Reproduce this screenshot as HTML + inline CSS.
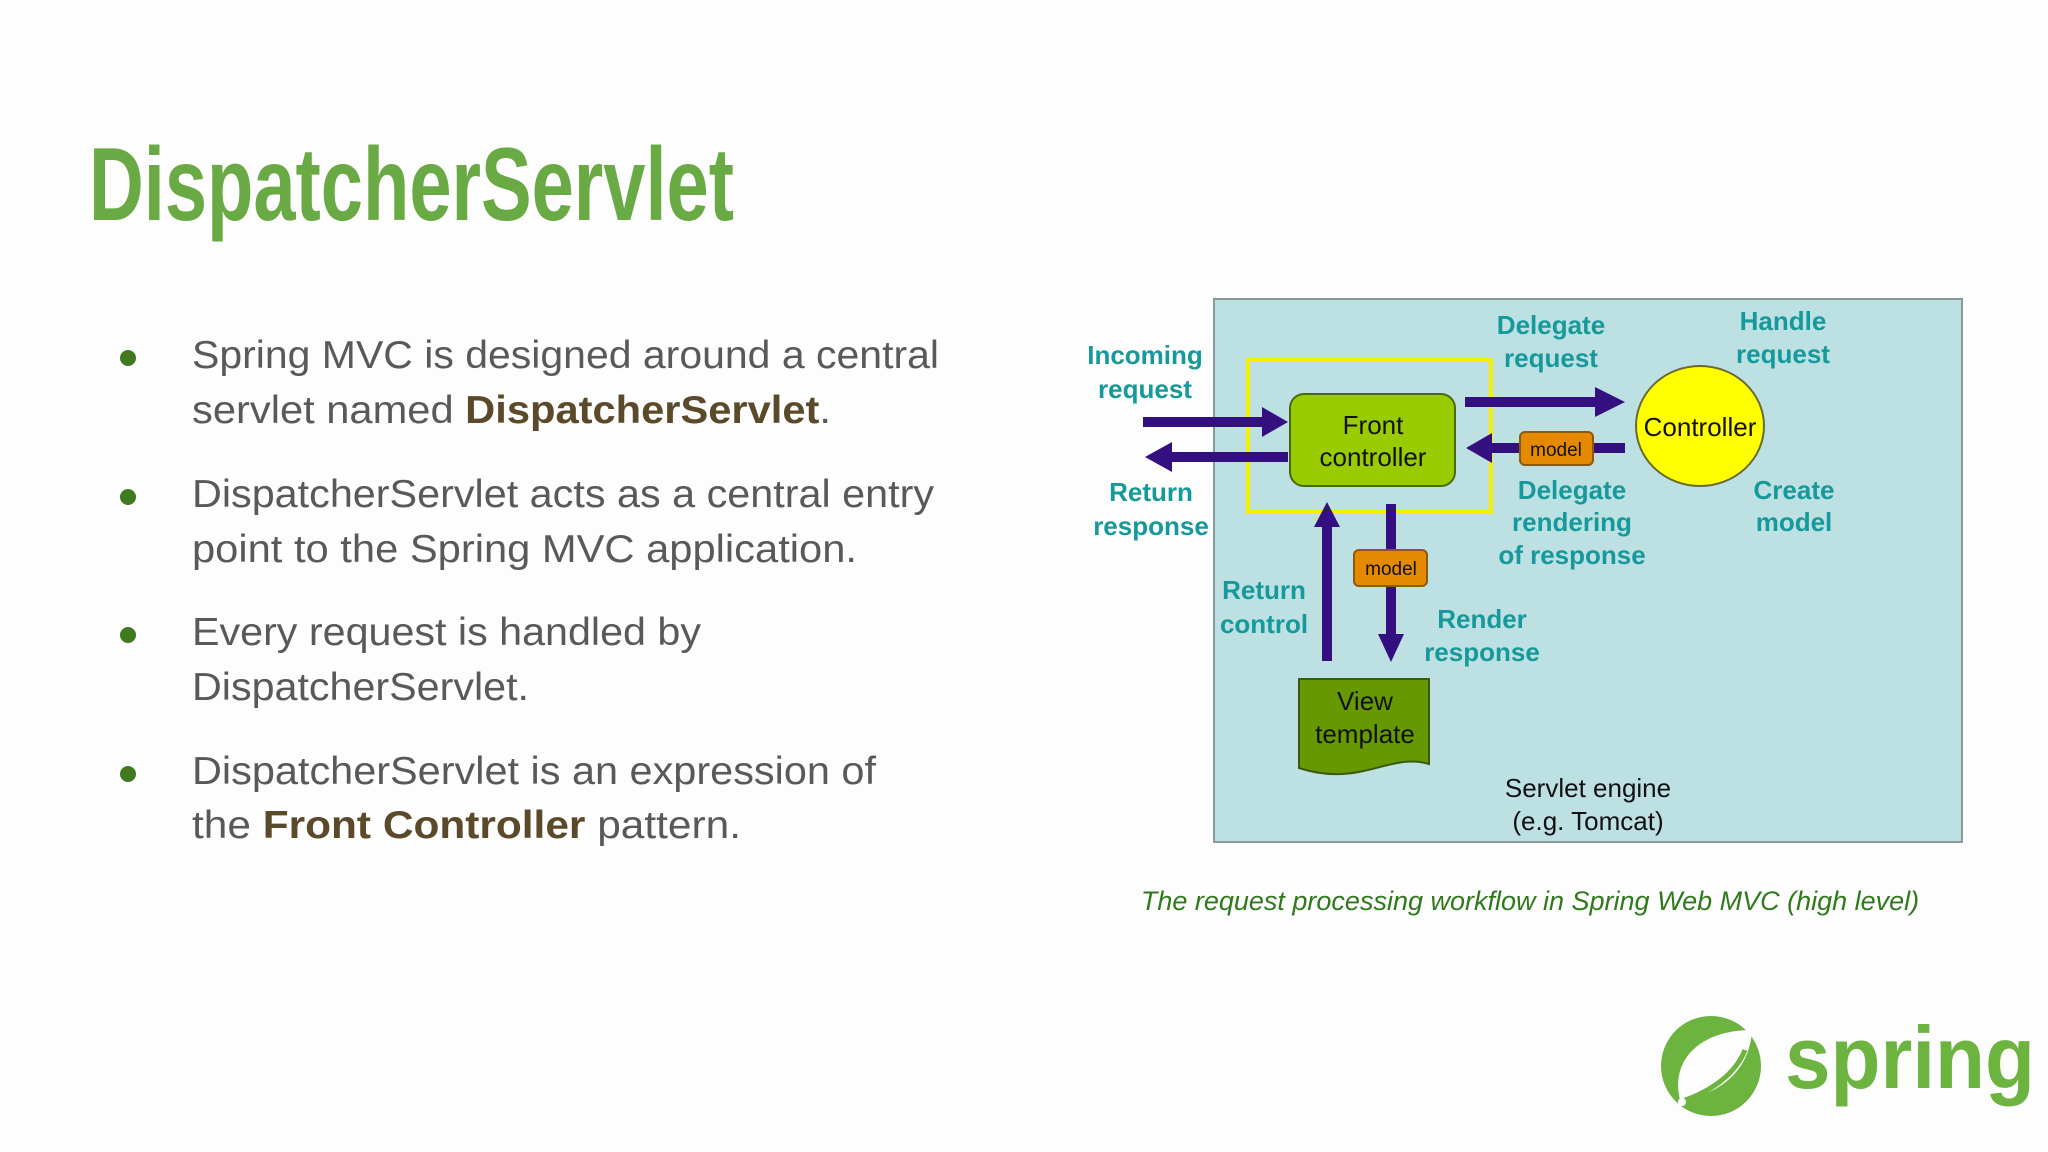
<!DOCTYPE html>
<html><head><meta charset="utf-8"><style>
html,body{margin:0;padding:0;background:#fdfdfd;}
svg{display:block}
</style></head><body>
<svg width="2048" height="1152" viewBox="0 0 2048 1152" xmlns="http://www.w3.org/2000/svg">
<rect width="2048" height="1152" fill="#fdfdfd"/>
<text x="89" y="220" font-family="Liberation Sans Narrow, Liberation Sans, sans-serif" font-weight="bold" font-size="104" fill="#6aaa45" textLength="645" lengthAdjust="spacingAndGlyphs">DispatcherServlet</text>

<g font-family="Liberation Sans, sans-serif" font-size="39" fill="#595959">
<circle cx="128" cy="358" r="8" fill="#3f7a1f"/>
<circle cx="128" cy="497" r="8" fill="#3f7a1f"/>
<circle cx="128" cy="635" r="8" fill="#3f7a1f"/>
<circle cx="128" cy="774" r="8" fill="#3f7a1f"/>
<text x="192" y="368" textLength="747" lengthAdjust="spacingAndGlyphs">Spring MVC is designed around a central</text>
<text x="192" y="423" textLength="639" lengthAdjust="spacingAndGlyphs">servlet named <tspan font-weight="bold" fill="#5b4a2a">DispatcherServlet</tspan>.</text>
<text x="192" y="507" textLength="742" lengthAdjust="spacingAndGlyphs">DispatcherServlet acts as a central entry</text>
<text x="192" y="562" textLength="665" lengthAdjust="spacingAndGlyphs">point to the Spring MVC application.</text>
<text x="192" y="645" textLength="509" lengthAdjust="spacingAndGlyphs">Every request is handled by</text>
<text x="192" y="700" textLength="337" lengthAdjust="spacingAndGlyphs">DispatcherServlet.</text>
<text x="192" y="784" textLength="684" lengthAdjust="spacingAndGlyphs">DispatcherServlet is an expression of</text>
<text x="192" y="838" textLength="549" lengthAdjust="spacingAndGlyphs">the <tspan font-weight="bold" fill="#5b4a2a">Front Controller</tspan> pattern.</text>
</g>

<!-- diagram -->
<rect x="1214" y="299" width="748" height="543" fill="#bde0e3" stroke="#8a9a9c" stroke-width="2"/>
<rect x="1248" y="360" width="243" height="152" fill="none" stroke="#f5f000" stroke-width="4"/>
<rect x="1290" y="394" width="165" height="92" rx="14" fill="#99cc00" stroke="#4a6a10" stroke-width="2"/>
<ellipse cx="1700" cy="426" rx="64" ry="60" fill="#ffff00" stroke="#6a6a30" stroke-width="2"/>
<g fill="#330f80">
<rect x="1143" y="417" width="122" height="10"/><polygon points="1262,407 1288,422 1262,437"/>
<rect x="1170" y="452" width="118" height="10"/><polygon points="1172,442 1145,457 1172,472"/>
<rect x="1465" y="397" width="132" height="10"/><polygon points="1595,387 1625,402 1595,417"/>
<rect x="1490" y="443" width="135" height="10"/><polygon points="1492,433 1466,448 1492,463"/>
<rect x="1322" y="525" width="10" height="136"/><polygon points="1314,527 1327,502 1340,527"/>
<rect x="1386" y="504" width="10" height="132"/><polygon points="1378,634 1391,662 1404,634"/>
</g>
<rect x="1520" y="432" width="73" height="33" rx="5" fill="#e58a00" stroke="#8a5a10" stroke-width="2"/>
<rect x="1354" y="550" width="73" height="36" rx="5" fill="#e58a00" stroke="#8a5a10" stroke-width="2"/>
<path d="M1299,679 H1429 V764 C1390,752 1360,788 1299,768 Z" fill="#669900" stroke="#3a5a10" stroke-width="2"/>

<g font-family="Liberation Sans Narrow, Liberation Sans, sans-serif" text-anchor="middle">
<g font-size="26" fill="#111">
<text x="1373" y="434">Front</text><text x="1373" y="466">controller</text>
<text x="1700" y="436">Controller</text>
<text x="1365" y="710">View</text><text x="1365" y="743">template</text>
</g>
<g font-size="19" fill="#111">
<text x="1556" y="456">model</text><text x="1391" y="575">model</text>
</g>
<g font-size="26" fill="#111">
<text x="1588" y="797">Servlet engine</text><text x="1588" y="830">(e.g. Tomcat)</text>
</g>
<g font-size="26" font-weight="bold" fill="#16999a">
<text x="1145" y="364">Incoming</text><text x="1145" y="398">request</text>
<text x="1151" y="501">Return</text><text x="1151" y="535">response</text>
<text x="1551" y="334">Delegate</text><text x="1551" y="367">request</text>
<text x="1783" y="330">Handle</text><text x="1783" y="363">request</text>
<text x="1572" y="499">Delegate</text><text x="1572" y="531">rendering</text><text x="1572" y="564">of response</text>
<text x="1794" y="499">Create</text><text x="1794" y="531">model</text>
<text x="1264" y="599">Return</text><text x="1264" y="633">control</text>
<text x="1482" y="628">Render</text><text x="1482" y="661">response</text>
</g>
</g>

<text x="1530" y="910" text-anchor="middle" font-family="Liberation Sans, sans-serif" font-style="italic" font-size="27" fill="#2f7a1a">The request processing workflow in Spring Web MVC (high level)</text>

<circle cx="1711" cy="1066" r="50" fill="#6cb33f"/>
<path d="M1752,1030 C1700,1030 1670,1060 1680,1100 C1720,1095 1750,1070 1752,1030 Z" fill="#fdfdfd"/>
<path d="M1680,1102 C1710,1092 1735,1075 1745,1050" stroke="#6cb33f" stroke-width="5" fill="none"/>
<circle cx="1682" cy="1102" r="4" fill="#fdfdfd"/>
<text x="1785" y="1088" font-family="Liberation Sans, sans-serif" font-weight="bold" font-size="88" fill="#6cb33f" textLength="250" lengthAdjust="spacingAndGlyphs">spring</text>
</svg>
</body></html>
